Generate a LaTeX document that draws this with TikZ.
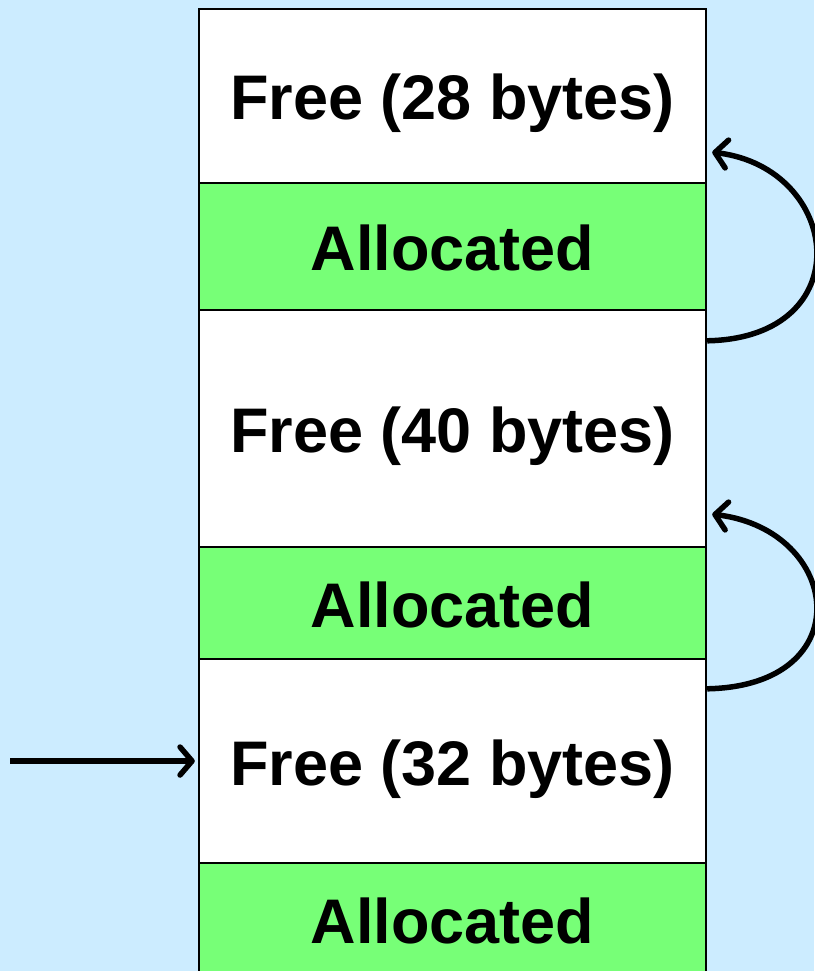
\documentclass[tikz,border=0pt]{standalone}
\usepackage{fontspec}
\setmainfont{Liberation Sans}
\usetikzlibrary{arrows.meta}
\definecolor{bgblue}{HTML}{CCECFF}
\definecolor{allocgreen}{HTML}{77FF77}
\tikzset{
  block/.style={draw=black, line width=2.4pt, minimum width=507pt, inner sep=0pt,
    text height=48pt, text depth=0pt,
    font=\fontsize{63}{75}\selectfont\bfseries},
  freeblock/.style={block, fill=white},
  allocblock/.style={block, fill=allocgreen},
  link/.style={line width=5.5pt, -{Straight Barb[length=12pt,width=28pt,round]}}
}
\begin{document}
\begin{tikzpicture}[x=1pt,y=-1pt]
\fill[bgblue] (0,0) rectangle (814,971);
\useasboundingbox (0,0) rectangle (814,971);
\begin{scope}
\clip (0,0) rectangle (814,971);
\node[freeblock, minimum height=174pt] (f28) at (452.5,96) {Free (28 bytes)};
\node[allocblock, minimum height=127pt] (a1) at (452.5,246.5) {Allocated};
\node[freeblock, minimum height=237pt] (f40) at (452.5,428.5) {Free (40 bytes)};
\node[allocblock, minimum height=112pt] (a2) at (452.5,603) {Allocated};
\node[freeblock, minimum height=204pt] (f32) at (452.5,761) {Free (32 bytes)};
\node[allocblock, minimum height=112pt] (a3) at (452.5,919) {Allocated};
\end{scope}
\coordinate (src) at (10,761);
\draw[link] (src) -- ([xshift=-3pt]f32.west);
\draw[link] ([yshift=-32pt]f40.north east) .. controls +(154,-3) and +(130,16) .. ([xshift=5pt,yshift=32pt]f28.south east);
\draw[link] ([yshift=-31pt]f32.north east) .. controls +(154,-3) and +(130,16) .. ([xshift=5pt,yshift=34pt]f40.south east);
\end{tikzpicture}
\end{document}
